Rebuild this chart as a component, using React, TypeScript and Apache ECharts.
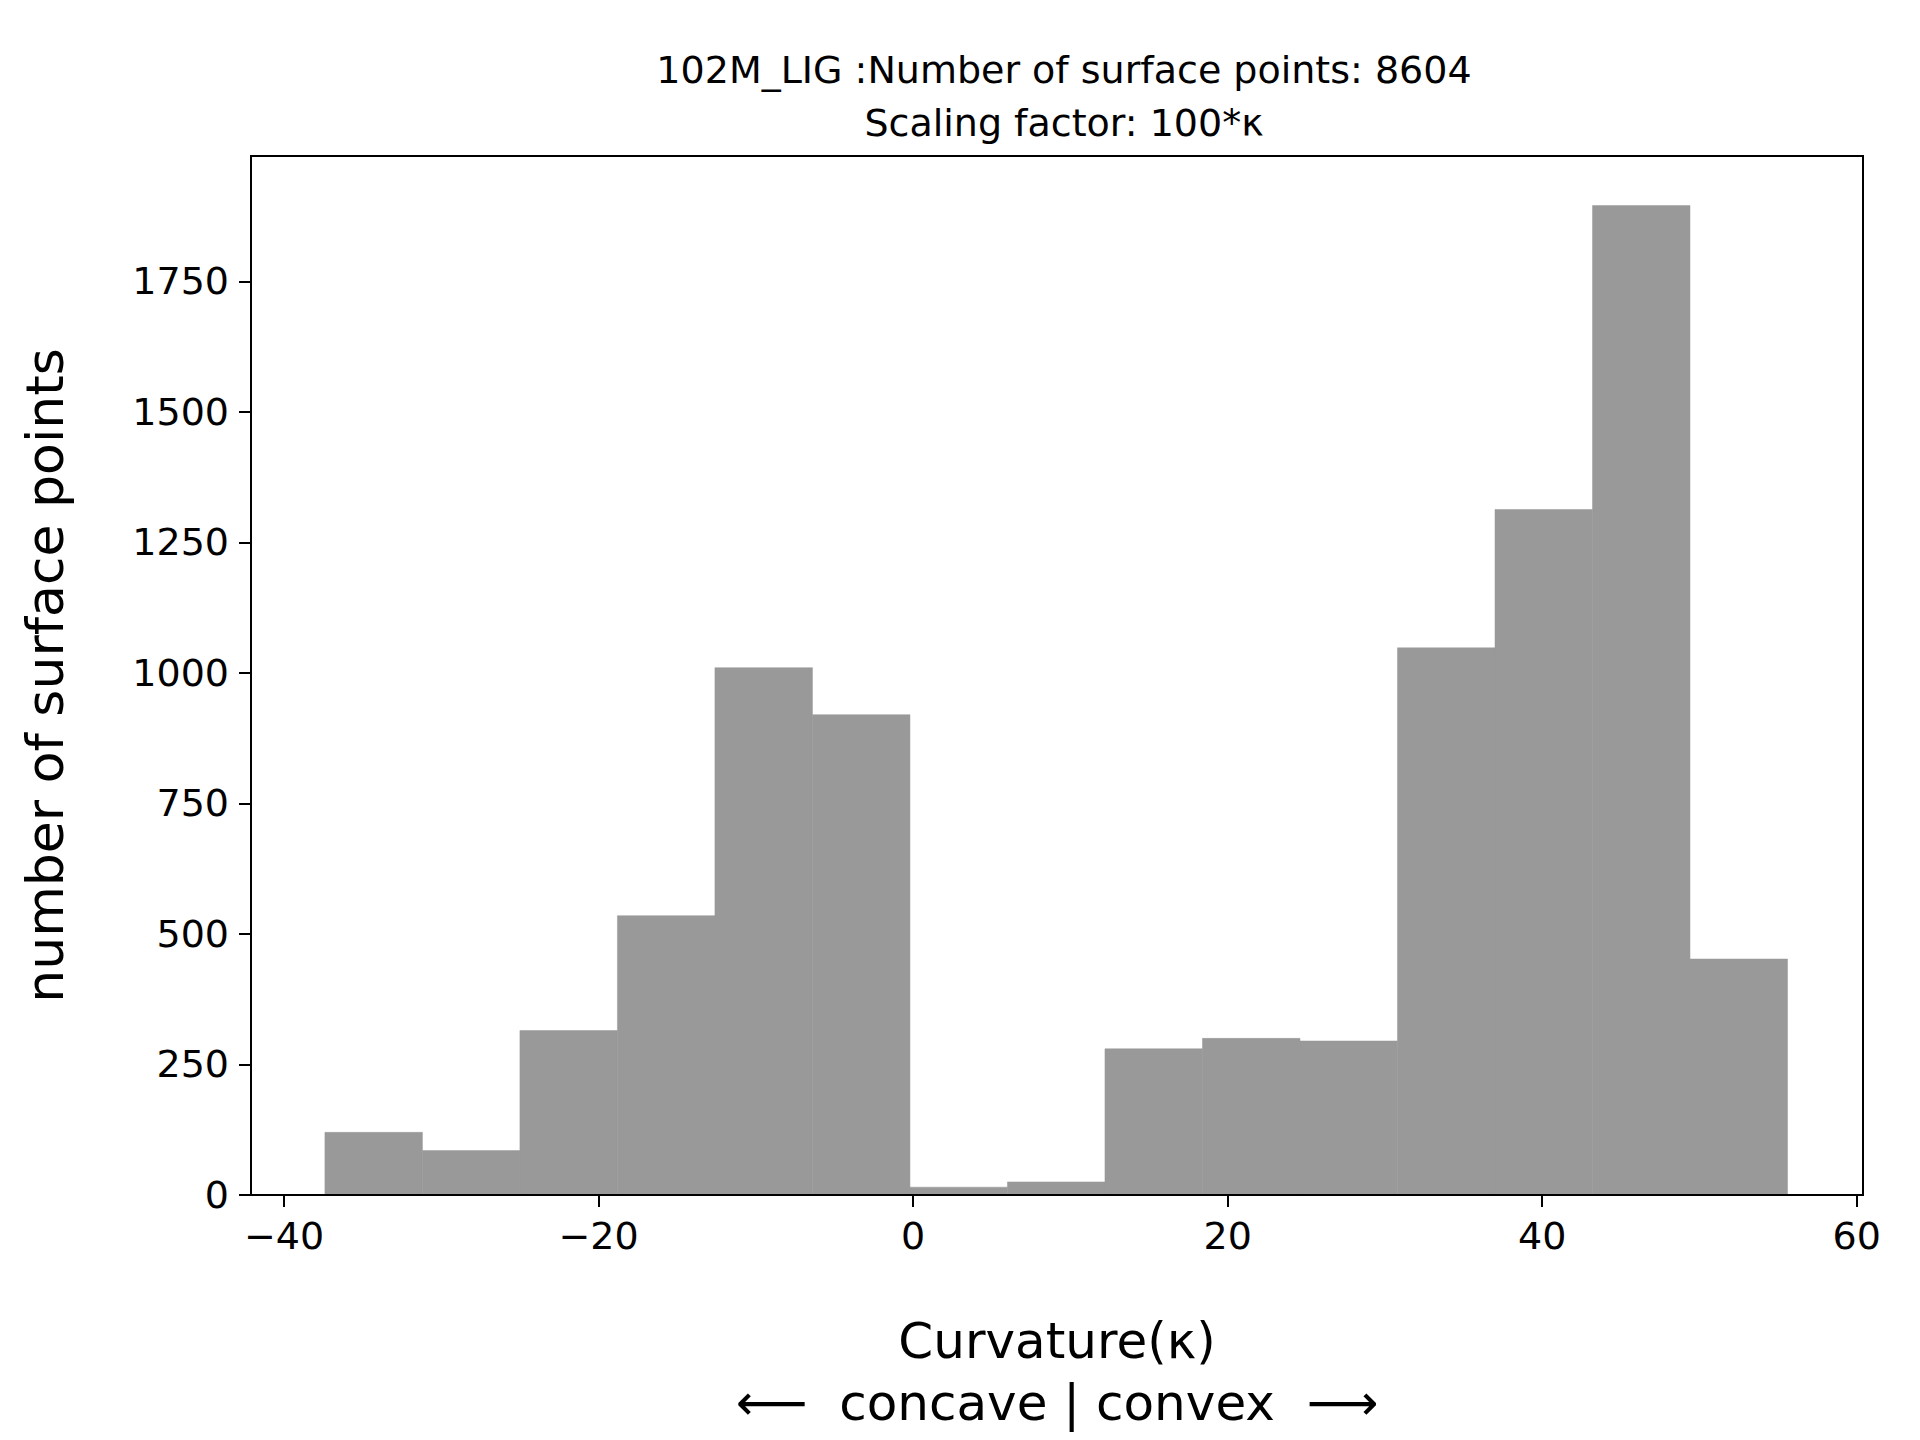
import * as echarts from 'echarts';
import React, { useEffect, useRef } from 'react';

const binStart = -37.4;
const binWidth = 6.2;
const counts = [120, 85, 315, 535, 1010, 920, 15, 25, 280, 300, 295, 1048, 1313, 1895, 452];
const yTicks = [0, 250, 500, 750, 1000, 1250, 1500, 1750];
const xTicks = [-40, -20, 0, 20, 40, 60];

const App: React.FC = () => {
  const ref = useRef<HTMLDivElement>(null);

  useEffect(() => {
    if (!ref.current) return;
    const chart = echarts.init(ref.current, null, { renderer: 'svg' });
    const font = 'DejaVu Sans';
    const data = counts.map((c, i) => [binStart + i * binWidth, binStart + (i + 1) * binWidth, c]);
    chart.setOption({
      animation: false,
      title: {
        text: '102M_LIG :Number of surface points: 8604\nScaling factor: 100*κ',
        left: 1059,
        top: 38,
        textAlign: 'center',
        textStyle: { fontFamily: font, fontWeight: 'normal', fontSize: 38, lineHeight: 53, color: '#000' },
      },
      grid: { left: 251, right: 57, top: 156, bottom: 245 },
      xAxis: {
        type: 'value',
        min: -42.1,
        max: 60.4,
        splitLine: { show: false },
        axisLine: { onZero: false, lineStyle: { color: '#000', width: 2 } },
        axisTick: { length: 12, customValues: xTicks, lineStyle: { color: '#000', width: 2 } },
        axisLabel: {
          fontFamily: font, fontSize: 38, color: '#000', margin: 22,
          customValues: xTicks,
          formatter: (v: number) => (v < 0 ? '−' + Math.abs(v) : String(v)),
        },
        name: 'Curvature(κ)\n⟵  concave | convex  ⟶',
        nameLocation: 'middle',
        nameGap: 115,
        nameTextStyle: { fontFamily: font, fontSize: 50, color: '#000', lineHeight: 62, verticalAlign: 'top' },
      },
      yAxis: {
        type: 'value',
        min: 0,
        max: 1990,
        splitLine: { show: false },
        axisLine: { show: true, onZero: false, lineStyle: { color: '#000', width: 2 } },
        axisTick: { show: true, length: 12, customValues: yTicks, lineStyle: { color: '#000', width: 2 } },
        axisLabel: {
          fontFamily: font, fontSize: 38, color: '#000', margin: 22, customValues: yTicks,
          formatter: (v: number) => String(v),
        },
        name: 'number of surface points',
        nameLocation: 'middle',
        nameGap: 180,
        nameTextStyle: { fontFamily: font, fontSize: 52, color: '#000' },
      },
      graphic: [
        {
          type: 'rect',
          shape: { x: 251, y: 156, width: 1612, height: 1039 },
          style: { fill: 'none', stroke: '#000', lineWidth: 2 },
          silent: true,
          z: 10,
        },
      ],
      series: [
        {
          type: 'custom',
          data,
          renderItem: (params: any, api: any) => {
            const p0 = api.coord([api.value(0), api.value(2)]);
            const p1 = api.coord([api.value(1), 0]);
            return {
              type: 'rect',
              shape: { x: p0[0], y: p0[1], width: p1[0] - p0[0], height: p1[1] - p0[1] },
              style: { fill: '#999999', stroke: '#999999', lineWidth: 0.5 },
            };
          },
        },
      ],
    });
    return () => chart.dispose();
  }, []);

  return <div ref={ref} style={{ position: 'absolute', left: 0, top: 0, width: 1920, height: 1440 }} />;
};

export default App;
